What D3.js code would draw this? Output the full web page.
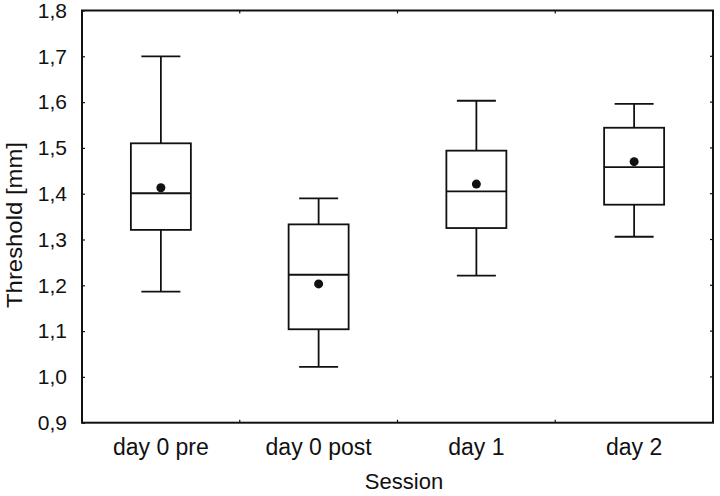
<!DOCTYPE html>
<html>
<head>
<meta charset="utf-8">
<script src="https://cdn.jsdelivr.net/npm/d3@7"></script>
<style>
  html, body { margin: 0; padding: 0; background: #fff; }
  svg { display: block; }
  text { font-family: "Liberation Sans", Arial, Helvetica, sans-serif; fill: #111; }
</style>
</head>
<body>
<svg id="chart" width="720" height="496"></svg>
<script>
const categories = ["day 0 pre", "day 0 post", "day 1", "day 2"];
const whiskerLow  = [1.186, 1.022, 1.221, 1.306];
const boxLow      = [1.321, 1.104, 1.325, 1.376];
const medians     = [1.401, 1.223, 1.405, 1.458];
const boxHigh     = [1.510, 1.333, 1.494, 1.544];
const whiskerHigh = [1.700, 1.390, 1.603, 1.596];
const means       = [1.413, 1.203, 1.421, 1.470];
const yTicks = [0.9, 1.0, 1.1, 1.2, 1.3, 1.4, 1.5, 1.6, 1.7, 1.8];
const yDomain = [0.9, 1.8];

const svg = d3.select("#chart");
const L = 82, R = 713, T = 10.5, B = 422.7;
const ink = "#111";

const x = d3.scaleBand().domain(categories).range([L, R]).paddingInner(0).paddingOuter(0);
const y = d3.scaleLinear().domain(yDomain).range([B, T]);
const fmt = v => d3.format(".1f")(v).replace(".", ",");

// Left axis (ticks inward, labels outward)
const leftAxis = svg.append("g").attr("transform", `translate(${L},0)`)
  .call(d3.axisLeft(y).tickValues(yTicks).tickFormat(fmt).tickSize(0).tickPadding(15));
leftAxis.select(".domain").remove();
leftAxis.selectAll("text").attr("font-size", 21).attr("fill", ink)
  .style("font-family", '"Liberation Sans", Arial, sans-serif');
leftAxis.selectAll(".tick").append("line").attr("x1", 0).attr("x2", 3).attr("stroke", ink).attr("stroke-width", 1.2);

// Right ticks
svg.append("g").selectAll("line").data(yTicks.slice(1, -1)).join("line")
  .attr("x1", R - 3).attr("x2", R).attr("y1", d => y(d)).attr("y2", d => y(d))
  .attr("stroke", ink).attr("stroke-width", 1.2);

// Bottom axis with labels
const bottomAxis = svg.append("g").attr("transform", `translate(0,${B})`)
  .call(d3.axisBottom(x).tickSize(0).tickPadding(16));
bottomAxis.select(".domain").remove();
bottomAxis.selectAll("text").attr("font-size", 23).attr("fill", ink)
  .style("font-family", '"Liberation Sans", Arial, sans-serif');

// Category boundary ticks (top and bottom, inward)
const bounds = categories.slice(1).map(c => x(c));
svg.append("g").selectAll("line").data(bounds).join("line")
  .attr("x1", d => d).attr("x2", d => d).attr("y1", B - 3).attr("y2", B)
  .attr("stroke", ink).attr("stroke-width", 1.2);
svg.append("g").selectAll("line").data(bounds).join("line")
  .attr("x1", d => d).attr("x2", d => d).attr("y1", T).attr("y2", T + 3)
  .attr("stroke", ink).attr("stroke-width", 1.2);

// Frame
svg.append("rect").attr("x", L).attr("y", T).attr("width", R - L).attr("height", B - T)
  .attr("fill", "none").attr("stroke", ink).attr("stroke-width", 2);

// Boxes
const boxW = 60, capW = 39;
const data = categories.map((c, i) => ({
  c, lo: whiskerLow[i], q1: boxLow[i], med: medians[i], q3: boxHigh[i], hi: whiskerHigh[i], mean: means[i]
}));
const g = svg.append("g").selectAll("g").data(data).join("g")
  .attr("transform", d => `translate(${x(d.c) + x.bandwidth() / 2},0)`);
const sw = 1.8;
g.append("line").attr("x1", 0).attr("x2", 0).attr("y1", d => y(d.hi)).attr("y2", d => y(d.q3))
  .attr("stroke", ink).attr("stroke-width", sw);
g.append("line").attr("x1", 0).attr("x2", 0).attr("y1", d => y(d.q1)).attr("y2", d => y(d.lo))
  .attr("stroke", ink).attr("stroke-width", sw);
g.append("line").attr("x1", -capW / 2).attr("x2", capW / 2).attr("y1", d => y(d.hi)).attr("y2", d => y(d.hi))
  .attr("stroke", ink).attr("stroke-width", sw);
g.append("line").attr("x1", -capW / 2).attr("x2", capW / 2).attr("y1", d => y(d.lo)).attr("y2", d => y(d.lo))
  .attr("stroke", ink).attr("stroke-width", sw);
g.append("rect").attr("x", -boxW / 2).attr("width", boxW)
  .attr("y", d => y(d.q3)).attr("height", d => y(d.q1) - y(d.q3))
  .attr("fill", "none").attr("stroke", ink).attr("stroke-width", sw);
g.append("line").attr("x1", -boxW / 2).attr("x2", boxW / 2).attr("y1", d => y(d.med)).attr("y2", d => y(d.med))
  .attr("stroke", ink).attr("stroke-width", sw);
g.append("circle").attr("cx", 0).attr("cy", d => y(d.mean)).attr("r", 4.5).attr("fill", ink);

// Axis titles
svg.append("text").attr("x", 404).attr("y", 489).attr("text-anchor", "middle")
  .attr("font-size", 22).text("Session");
svg.append("text").attr("transform", "translate(22,225) rotate(-90)").attr("text-anchor", "middle")
  .attr("font-size", 22).attr("textLength", 166).attr("lengthAdjust", "spacingAndGlyphs")
  .text("Threshold [mm]");
</script>
</body>
</html>
